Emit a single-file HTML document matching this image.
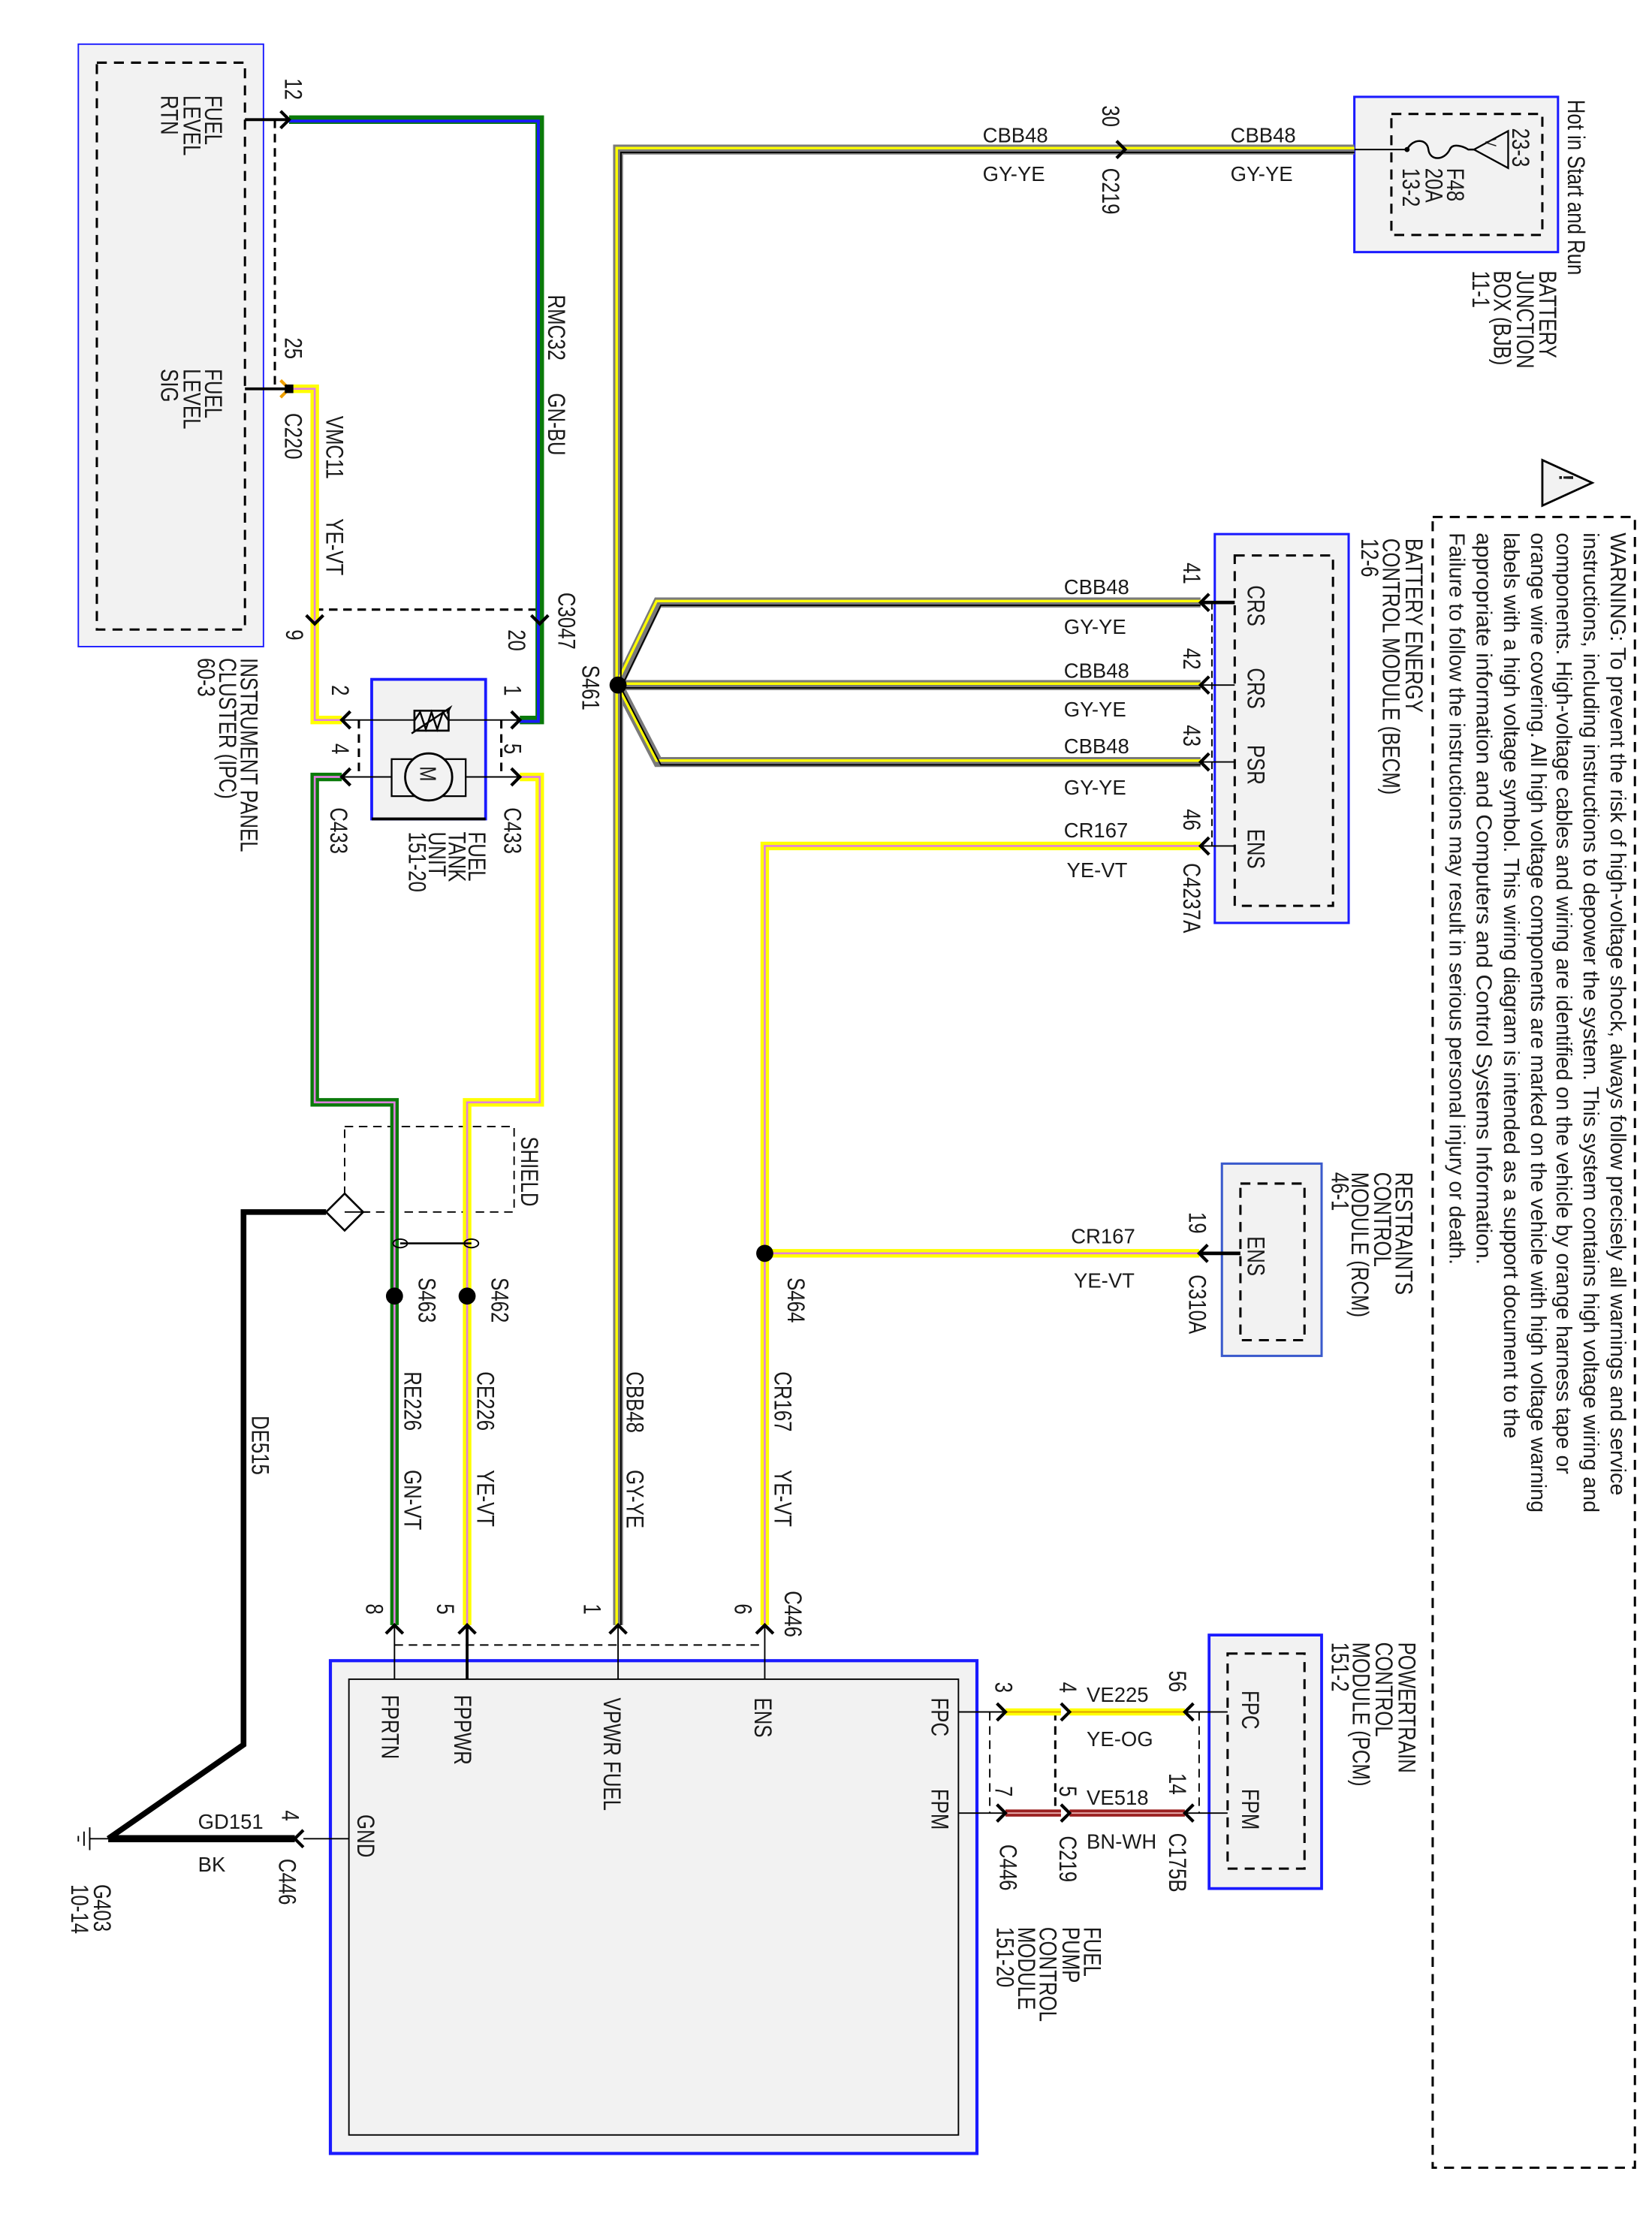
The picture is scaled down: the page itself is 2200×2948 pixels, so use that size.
<!DOCTYPE html>
<html><head><meta charset="utf-8"><style>
html,body{margin:0;padding:0;background:#fff}
svg{display:block}
text{font-family:"Liberation Sans",Arial,sans-serif;fill:#1a1a1a}
.r{font-size:17px}
.h{font-size:14.5px}
.w{font-size:15px}
</style></head><body>
<svg width="2200" height="2948" viewBox="0 0 1160 1554.5" preserveAspectRatio="none" xmlns="http://www.w3.org/2000/svg">
<rect width="1160" height="1555" fill="#fff"/>

<!-- IPC -->
<rect x="55" y="31" width="130" height="423" fill="#f2f2f2" stroke="#1a1aff" stroke-width="1"/>
<rect x="68" y="44" width="104" height="398" fill="none" stroke="#000" stroke-width="1.6" stroke-dasharray="7,5"/>

<!-- BJB -->
<rect x="951" y="68" width="143" height="109" fill="#f2f2f2" stroke="#1a1aff" stroke-width="1.6"/>
<rect x="977" y="80" width="106" height="85" fill="none" stroke="#000" stroke-width="1.6" stroke-dasharray="7,5"/>
<path d="M951,105 H988" stroke="#000" stroke-width="1" fill="none"/>
<path d="M988,105 C992,97 1002,97 1003,105 C1004,113 1014,113 1018,105 C1020,100 1028,103 1031,105 H1035" stroke="#000" stroke-width="1.3" fill="none"/>
<circle cx="988" cy="105" r="1.8" fill="#000"/>
<polygon points="1035,105 1059,92 1059,118" fill="none" stroke="#000" stroke-width="1.2"/>

<!-- warning -->
<polygon points="1118,339 1083,323 1083,355" fill="#f2f2f2" stroke="#000" stroke-width="1.5"/>
<rect x="1006" y="363" width="142" height="1159" fill="none" stroke="#000" stroke-width="1.6" stroke-dasharray="7,5"/>

<!-- BECM -->
<rect x="853" y="375" width="94" height="273" fill="#f2f2f2" stroke="#1a1aff" stroke-width="1.6"/>
<rect x="867" y="390" width="69" height="246" fill="none" stroke="#000" stroke-width="1.6" stroke-dasharray="7,5"/>
<!-- RCM -->
<rect x="858" y="817" width="70" height="135" fill="#f2f2f2" stroke="#3a5acc" stroke-width="1.6"/>
<rect x="871" y="831" width="45" height="110" fill="none" stroke="#000" stroke-width="1.6" stroke-dasharray="7,5"/>
<!-- PCM -->
<rect x="849" y="1148" width="79" height="178" fill="#f2f2f2" stroke="#1a1aff" stroke-width="2"/>
<rect x="862" y="1161" width="54" height="151" fill="none" stroke="#000" stroke-width="1.6" stroke-dasharray="7,5"/>
<!-- FPCM -->
<rect x="232" y="1166" width="454" height="346" fill="#f2f2f2" stroke="#1a1aff" stroke-width="2.2"/>
<rect x="245" y="1179" width="428" height="320" fill="none" stroke="#000" stroke-width="1"/>

<!-- Fuel tank unit -->
<rect x="261" y="477" width="80" height="98" fill="#f2f2f2" stroke="#1a1aff" stroke-width="2"/>
<path d="M261,575 H341" stroke="#000" stroke-width="2"/>
<path d="M240,505.5 H365 M240,545.5 H365" stroke="#000" stroke-width="1"/>
<rect x="291" y="499" width="24" height="14" fill="#f2f2f2" stroke="#000" stroke-width="1.4"/>
<path d="M291,506 L295,500 L299,512 L303,500 L307,512 L311,500 L315,506 M289,515 L316,497 L314,501" stroke="#000" stroke-width="1.3" fill="none"/>
<rect x="275" y="533" width="52" height="26" fill="#f2f2f2" stroke="#000" stroke-width="1.2"/>
<circle cx="301" cy="545.5" r="16.5" fill="#f2f2f2" stroke="#000" stroke-width="1.5"/>
<path d="M252,505.5 V545.5 M352,505.5 V545.5" stroke="#000" stroke-width="1.6" stroke-dasharray="6,4"/>

<!-- dashed connectors -->
<path d="M193,84 V273" stroke="#000" stroke-width="1.6" stroke-dasharray="6,4"/>
<path d="M221,428 H379" stroke="#000" stroke-width="1.6" stroke-dasharray="6,4"/>
<path d="M851,423 V594" stroke="#000" stroke-width="1" stroke-dasharray="5,3"/>
<path d="M277,1155 H537" stroke="#000" stroke-width="1" stroke-dasharray="6,4"/>
<path d="M695,1202 V1273 M842,1202 V1273" stroke="#000" stroke-width="1" stroke-dasharray="6,4"/>
<path d="M741,1202 V1273" stroke="#000" stroke-width="1.6" stroke-dasharray="6,4"/>
<rect x="242" y="791" width="119" height="60" fill="none" stroke="#000" stroke-width="1" stroke-dasharray="6,4"/>

<!-- pin lines to modules -->
<path d="M172,84 H203 M172,273 H203" stroke="#000" stroke-width="2"/>
<path d="M843,423 H867" stroke="#000" stroke-width="2.5"/>
<path d="M843,481 H867 M843,535 H867 M843,594 H867" stroke="#000" stroke-width="1"/>
<path d="M842,880 H871" stroke="#000" stroke-width="2.5"/>
<path d="M277,1141 V1179 M434,1141 V1179 M537,1141 V1179" stroke="#000" stroke-width="1"/>
<path d="M328,1141 V1179" stroke="#000" stroke-width="2"/>
<path d="M673,1202 H706 M673,1273 H706 M832,1202 H862 M832,1273 H862" stroke="#000" stroke-width="1"/>
<path d="M245,1291 H213" stroke="#000" stroke-width="1"/>

<!-- GN-BU -->
<path d="M203,84 H379 V505.5 H365" stroke="#0a7a0a" stroke-width="6" fill="none"/>
<path d="M203,84 H379 V505.5 H365" stroke="#1a1aff" stroke-width="2" fill="none" transform="translate(-1,1)"/>
<!-- VMC11 YE-VT -->
<path d="M203,273 H221 V505.5 H240" stroke="#ffff00" stroke-width="6" fill="none"/>
<path d="M203,273 H221 V505.5 H240" stroke="#e080e0" stroke-width="1.4" fill="none"/>
<!-- GN-VT -->
<path d="M240,545.5 H221 V774 H277 V1141" stroke="#0a7a0a" stroke-width="6" fill="none"/>
<path d="M240,545.5 H221 V774 H277 V1141" stroke="#e080e0" stroke-width="1.4" fill="none"/>
<!-- CE226 YE-VT -->
<path d="M365,545.5 H379 V774 H328 V1141" stroke="#ffff00" stroke-width="6" fill="none"/>
<path d="M365,545.5 H379 V774 H328 V1141" stroke="#e080e0" stroke-width="1.4" fill="none"/>
<!-- CR167 YE-VT -->
<path d="M537,1141 V594 H843 M537,880 H842" stroke="#ffff00" stroke-width="6" fill="none"/>
<path d="M537,1141 V594 H843 M537,880 H842" stroke="#e080e0" stroke-width="1.4" fill="none"/>
<!-- GY-YE -->
<g fill="none" stroke-linejoin="miter">
<path d="M434,1141 V105 H951 M434,481 L462,423 H843 M434,481 H843 M434,481 L462,535 H843" stroke="#7a7a7a" stroke-width="7"/>
<path d="M433,1141 V104 H951 M433,480 L461,422 H843 M433,480 H843 M433,480 L461,534 H843" stroke="#ffff00" stroke-width="1.8"/>
<path d="M436,1141 V107 H951 M436,483 L464,425 H843 M436,483 H843 M436,483 L464,537 H843" stroke="#000" stroke-width="1"/>
</g>
<!-- FPC YE-OG / FPM BN-WH -->
<path d="M706,1202 H745 M751,1202 H832" stroke="#ffff00" stroke-width="5"/>
<path d="M706,1202 H745 M751,1202 H832" stroke="#e0a000" stroke-width="1"/>
<path d="M706,1273 H745 M751,1273 H832" stroke="#9a2020" stroke-width="5"/>
<path d="M706,1273 H745 M751,1273 H832" stroke="#e8b0b0" stroke-width="1"/>
<!-- black DE515 & GND -->
<path d="M229,851 H171 V1225 L76,1291" stroke="#000" stroke-width="4" fill="none"/>
<path d="M207,1291 H76" stroke="#000" stroke-width="5"/>
<path d="M76,1291 H63 M63,1283 V1299 M59,1286 V1296 M55,1289 V1293" stroke="#000" stroke-width="1"/>
<polygon points="242,838 255,851 242,864 229,851" fill="#fff" stroke="#000" stroke-width="1.4"/>
<path d="M242,851 H259" stroke="#000" stroke-width="1"/>
<!-- twist -->
<ellipse cx="281" cy="873" rx="5" ry="3" fill="none" stroke="#000" stroke-width="1"/>
<ellipse cx="331" cy="873" rx="5" ry="3" fill="none" stroke="#000" stroke-width="1"/>
<path d="M281,873 H331" stroke="#000" stroke-width="1.4"/>

<!-- splices -->
<circle cx="434" cy="481" r="6" fill="#000"/>
<circle cx="277" cy="910" r="6" fill="#000"/>
<circle cx="328" cy="910" r="6" fill="#000"/>
<circle cx="537" cy="880" r="6" fill="#000"/>

<!-- arrows -->
<g stroke="#000" stroke-width="2.2" fill="none">
<path d="M197,78 L203,84 L197,90"/>
<path d="M784,99 L790,105 L784,111"/>
<path d="M215,432 L221,438 L227,432 M373,432 L379,438 L385,432"/>
<path d="M246,499.5 L240,505.5 L246,511.5 M246,539.5 L240,545.5 L246,551.5"/>
<path d="M359,499.5 L365,505.5 L359,511.5 M359,539.5 L365,545.5 L359,551.5"/>
<path d="M849,417 L843,423 L849,429 M849,475 L843,481 L849,487 M849,529 L843,535 L849,541 M849,588 L843,594 L849,600"/>
<path d="M848,874 L842,880 L848,886"/>
<path d="M271,1147 L277,1141 L283,1147 M322,1147 L328,1141 L334,1147 M428,1147 L434,1141 L440,1147 M531,1147 L537,1141 L543,1147"/>
<path d="M700,1196 L706,1202 L700,1208 M745,1196 L751,1202 L745,1208 M838,1196 L832,1202 L838,1208"/>
<path d="M700,1267 L706,1273 L700,1279 M745,1267 L751,1273 L745,1279 M838,1267 L832,1273 L838,1279"/>
<path d="M213,1285 L207,1291 L213,1297"/>
</g>
<path d="M197,267 L203,273 L197,279" stroke="#f0a000" stroke-width="2.2" fill="none"/>
<rect x="200" y="270" width="6" height="6" fill="#000"/>

<!-- rotated labels -->
<g class="r">
<text transform="translate(144,67) rotate(90) scale(0.8,1)">FUEL</text>
<text transform="translate(129,67) rotate(90) scale(0.8,1)">LEVEL</text>
<text transform="translate(113,67) rotate(90) scale(0.8,1)">RTN</text>
<text transform="translate(144,259) rotate(90) scale(0.8,1)">FUEL</text>
<text transform="translate(129,259) rotate(90) scale(0.8,1)">LEVEL</text>
<text transform="translate(113,259) rotate(90) scale(0.8,1)">SIG</text>
<text transform="translate(200,55) rotate(90) scale(0.8,1)">12</text>
<text transform="translate(200,237) rotate(90) scale(0.8,1)">25</text>
<text transform="translate(200,290) rotate(90) scale(0.8,1)">C220</text>
<text transform="translate(385,207) rotate(90) scale(0.8,1)">RMC32</text>
<text transform="translate(385,276) rotate(90) scale(0.8,1)">GN-BU</text>
<text transform="translate(229,292) rotate(90) scale(0.8,1)">VMC11</text>
<text transform="translate(229,364) rotate(90) scale(0.8,1)">YE-VT</text>
<text transform="translate(392,416) rotate(90) scale(0.8,1)">C3047</text>
<text transform="translate(201,442) rotate(90) scale(0.8,1)">9</text>
<text transform="translate(357,442) rotate(90) scale(0.8,1)">20</text>
<text transform="translate(409,467) rotate(90) scale(0.8,1)">S461</text>
<text transform="translate(233,481) rotate(90) scale(0.8,1)">2</text>
<text transform="translate(354,481) rotate(90) scale(0.8,1)">1</text>
<text transform="translate(233,522) rotate(90) scale(0.8,1)">4</text>
<text transform="translate(354,522) rotate(90) scale(0.8,1)">5</text>
<text transform="translate(232,567) rotate(90) scale(0.8,1)">C433</text>
<text transform="translate(354,567) rotate(90) scale(0.8,1)">C433</text>
<text transform="translate(169,462) rotate(90) scale(0.8,1)">INSTRUMENT PANEL</text>
<text transform="translate(154,462) rotate(90) scale(0.8,1)">CLUSTER (IPC)</text>
<text transform="translate(139,462) rotate(90) scale(0.8,1)">60-3</text>
<text transform="translate(329,584) rotate(90) scale(0.8,1)">FUEL</text>
<text transform="translate(315,584) rotate(90) scale(0.8,1)">TANK</text>
<text transform="translate(301,584) rotate(90) scale(0.8,1)">UNIT</text>
<text transform="translate(287,584) rotate(90) scale(0.8,1)">151-20</text>
<text transform="translate(295,538) rotate(90) scale(0.8,1)" font-size="16">M</text>
<text transform="translate(366,798) rotate(90) scale(0.8,1)">SHIELD</text>
<text transform="translate(294,897) rotate(90) scale(0.8,1)">S463</text>
<text transform="translate(345,897) rotate(90) scale(0.8,1)">S462</text>
<text transform="translate(553,897) rotate(90) scale(0.8,1)">S464</text>
<text transform="translate(284,963) rotate(90) scale(0.8,1)">RE226</text>
<text transform="translate(284,1032) rotate(90) scale(0.8,1)">GN-VT</text>
<text transform="translate(335,963) rotate(90) scale(0.8,1)">CE226</text>
<text transform="translate(335,1032) rotate(90) scale(0.8,1)">YE-VT</text>
<text transform="translate(440,963) rotate(90) scale(0.8,1)">CBB48</text>
<text transform="translate(440,1032) rotate(90) scale(0.8,1)">GY-YE</text>
<text transform="translate(544,963) rotate(90) scale(0.8,1)">CR167</text>
<text transform="translate(544,1032) rotate(90) scale(0.8,1)">YE-VT</text>
<text transform="translate(177,994) rotate(90) scale(0.8,1)">DE515</text>
<text transform="translate(257,1126) rotate(90) scale(0.8,1)">8</text>
<text transform="translate(307,1126) rotate(90) scale(0.8,1)">5</text>
<text transform="translate(410,1126) rotate(90) scale(0.8,1)">1</text>
<text transform="translate(516,1126) rotate(90) scale(0.8,1)">6</text>
<text transform="translate(551,1117) rotate(90) scale(0.8,1)">C446</text>
<text transform="translate(268,1190) rotate(90) scale(0.8,1)">FPRTN</text>
<text transform="translate(319,1190) rotate(90) scale(0.8,1)">FPPWR</text>
<text transform="translate(424,1192) rotate(90) scale(0.8,1)">VPWR FUEL</text>
<text transform="translate(530,1192) rotate(90) scale(0.8,1)">ENS</text>
<text transform="translate(654,1192) rotate(90) scale(0.8,1)">FPC</text>
<text transform="translate(654,1256) rotate(90) scale(0.8,1)">FPM</text>
<text transform="translate(251,1274) rotate(90) scale(0.8,1)">GND</text>
<text transform="translate(198,1271) rotate(90) scale(0.8,1)">4</text>
<text transform="translate(196,1305) rotate(90) scale(0.8,1)">C446</text>
<text transform="translate(66,1323) rotate(90) scale(0.8,1)">G403</text>
<text transform="translate(50,1323) rotate(90) scale(0.8,1)">10-14</text>
<text transform="translate(761,1353) rotate(90) scale(0.8,1)">FUEL</text>
<text transform="translate(746,1353) rotate(90) scale(0.8,1)">PUMP</text>
<text transform="translate(730,1353) rotate(90) scale(0.8,1)">CONTROL</text>
<text transform="translate(715,1353) rotate(90) scale(0.8,1)">MODULE</text>
<text transform="translate(700,1353) rotate(90) scale(0.8,1)">151-20</text>
<text transform="translate(699,1181) rotate(90) scale(0.8,1)">3</text>
<text transform="translate(744,1181) rotate(90) scale(0.8,1)">4</text>
<text transform="translate(821,1173) rotate(90) scale(0.8,1)">56</text>
<text transform="translate(699,1254) rotate(90) scale(0.8,1)">7</text>
<text transform="translate(744,1254) rotate(90) scale(0.8,1)">5</text>
<text transform="translate(821,1245) rotate(90) scale(0.8,1)">14</text>
<text transform="translate(702,1295) rotate(90) scale(0.8,1)">C446</text>
<text transform="translate(744,1289) rotate(90) scale(0.8,1)">C219</text>
<text transform="translate(821,1287) rotate(90) scale(0.8,1)">C175B</text>
<text transform="translate(872,1187) rotate(90) scale(0.8,1)">FPC</text>
<text transform="translate(872,1256) rotate(90) scale(0.8,1)">FPM</text>
<text transform="translate(982,1153) rotate(90) scale(0.8,1)">POWERTRAIN</text>
<text transform="translate(966,1153) rotate(90) scale(0.8,1)">CONTROL</text>
<text transform="translate(950,1153) rotate(90) scale(0.8,1)">MODULE (PCM)</text>
<text transform="translate(935,1153) rotate(90) scale(0.8,1)">151-2</text>
<text transform="translate(876,868) rotate(90) scale(0.8,1)">ENS</text>
<text transform="translate(835,851) rotate(90) scale(0.8,1)">19</text>
<text transform="translate(835,895) rotate(90) scale(0.8,1)">C310A</text>
<text transform="translate(980,823) rotate(90) scale(0.8,1)">RESTRAINTS</text>
<text transform="translate(965,823) rotate(90) scale(0.8,1)">CONTROL</text>
<text transform="translate(949,823) rotate(90) scale(0.8,1)">MODULE (RCM)</text>
<text transform="translate(935,823) rotate(90) scale(0.8,1)">46-1</text>
<text transform="translate(876,411) rotate(90) scale(0.8,1)">CRS</text>
<text transform="translate(876,469) rotate(90) scale(0.8,1)">CRS</text>
<text transform="translate(876,523) rotate(90) scale(0.8,1)">PSR</text>
<text transform="translate(876,582) rotate(90) scale(0.8,1)">ENS</text>
<text transform="translate(831,395) rotate(90) scale(0.8,1)">41</text>
<text transform="translate(831,455) rotate(90) scale(0.8,1)">42</text>
<text transform="translate(831,509) rotate(90) scale(0.8,1)">43</text>
<text transform="translate(831,568) rotate(90) scale(0.8,1)">46</text>
<text transform="translate(831,606) rotate(90) scale(0.8,1)">C4237A</text>
<text transform="translate(987,378) rotate(90) scale(0.8,1)">BATTERY ENERGY</text>
<text transform="translate(971,378) rotate(90) scale(0.8,1)">CONTROL MODULE (BECM)</text>
<text transform="translate(956,378) rotate(90) scale(0.8,1)">12-6</text>
<text transform="translate(774,74) rotate(90) scale(0.8,1)">30</text>
<text transform="translate(774,118) rotate(90) scale(0.8,1)">C219</text>
<text transform="translate(1062,90) rotate(90) scale(0.8,1)">23-3</text>
<text transform="translate(1016,118) rotate(90) scale(0.8,1)">F48</text>
<text transform="translate(1001,118) rotate(90) scale(0.8,1)">20A</text>
<text transform="translate(985,118) rotate(90) scale(0.8,1)">13-2</text>
<text transform="translate(1043,97) rotate(90) scale(0.8,1)" font-size="11">V</text>
<text transform="translate(1101,70) rotate(90) scale(0.8,1)">Hot in Start and Run</text>
<text transform="translate(1081,190) rotate(90) scale(0.8,1)">BATTERY</text>
<text transform="translate(1065,190) rotate(90) scale(0.8,1)">JUNCTION</text>
<text transform="translate(1049,190) rotate(90) scale(0.8,1)">BOX (BJB)</text>
<text transform="translate(1034,190) rotate(90) scale(0.8,1)">11-1</text>
<text transform="translate(1095,333) rotate(90)" font-size="14" font-weight="bold">!</text>
</g>

<!-- warning text -->
<g class="w">
<text transform="translate(1131,374) rotate(90)" textLength="676" lengthAdjust="spacingAndGlyphs">WARNING: To prevent the risk of high-voltage shock, always follow precisely all warnings and service</text>
<text transform="translate(1112,374) rotate(90)" textLength="688" lengthAdjust="spacingAndGlyphs">instructions, including instructions to depower the system. This system contains high voltage wiring and</text>
<text transform="translate(1093,374) rotate(90)" textLength="661" lengthAdjust="spacingAndGlyphs">components. High-voltage cables and wiring are identified on the vehicle by orange harness tape or</text>
<text transform="translate(1075,374) rotate(90)" textLength="688" lengthAdjust="spacingAndGlyphs">orange wire covering. All high voltage components are marked on the vehicle with high voltage warning</text>
<text transform="translate(1056,374) rotate(90)" textLength="636" lengthAdjust="spacingAndGlyphs">labels with a high voltage symbol. This wiring diagram is intended as a support document to the</text>
<text transform="translate(1037,374) rotate(90)" textLength="514" lengthAdjust="spacingAndGlyphs">appropriate information  and  Computers and Control Systems Information.</text>
<text transform="translate(1018,374) rotate(90)" textLength="514" lengthAdjust="spacingAndGlyphs">Failure to follow the instructions may result in serious personal injury or death.</text>
</g>

<!-- horizontal labels -->
<g class="h">
<text x="690" y="100">CBB48</text>
<text x="690" y="127">GY-YE</text>
<text x="864" y="100">CBB48</text>
<text x="864" y="127">GY-YE</text>
<text x="747" y="417">CBB48</text>
<text x="747" y="445">GY-YE</text>
<text x="747" y="476">CBB48</text>
<text x="747" y="503">GY-YE</text>
<text x="747" y="529">CBB48</text>
<text x="747" y="558">GY-YE</text>
<text x="747" y="588">CR167</text>
<text x="749" y="616">YE-VT</text>
<text x="752" y="873">CR167</text>
<text x="754" y="904">YE-VT</text>
<text x="763" y="1195">VE225</text>
<text x="763" y="1226">YE-OG</text>
<text x="763" y="1267">VE518</text>
<text x="763" y="1298">BN-WH</text>
<text x="139" y="1284">GD151</text>
<text x="139" y="1314">BK</text>
</g>
</svg>
</body></html>
